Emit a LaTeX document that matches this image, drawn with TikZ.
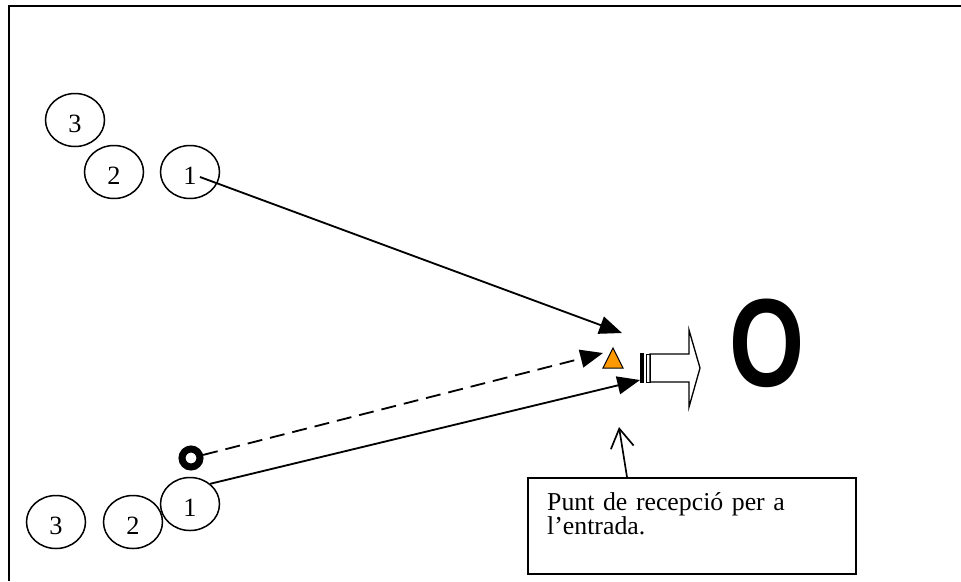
\documentclass[tikz,border=0pt]{standalone}
\usepackage{graphicx}
\usepackage{fontspec}
\setmainfont{Liberation Serif}
\newfontfamily\goalfont{Liberation Sans}
\usetikzlibrary{arrows.meta, shapes.geometric, positioning}
\definecolor{coneorange}{RGB}{255,153,0}
\tikzset{
  frame/.style={line width=0.6mm},
  player/.style={ellipse, draw, line width=0.45mm, minimum width=17.7mm,
    minimum height=15.9mm, inner sep=0pt, text height=7.5mm, text depth=0pt,
    font=\fontsize{22.5}{23}\selectfont},
  ring/.style={circle, draw, line width=2.1mm, minimum size=5.4mm, inner sep=0pt},
  pass/.style={line width=0.55mm, -{Triangle[length=6.8mm, width=5.4mm]}},
  run/.style={pass, dash pattern=on 4.5mm off 2.4mm},
  cone/.style={draw, fill=coneorange, line width=0.3mm},
  blockarrow/.style={draw, line width=0.4mm, line join=miter},
  goal/.style={inner sep=0pt, font=\goalfont\bfseries\fontsize{107}{107}\selectfont},
  note/.style={draw, line width=0.5mm, anchor=north west, minimum width=98.4mm,
    minimum height=28.8mm, inner sep=0pt},
  notetext/.style={anchor=base west, align=left, text width=92mm, inner sep=0pt,
    font=\fontsize{22}{21.3}\selectfont},
  pointer/.style={line width=0.5mm, -{Straight Barb[length=5.7mm, width=6.9mm]}},
}

\begin{document}
\begin{tikzpicture}[x=0.3mm, y=-0.3mm]
  \useasboundingbox (0,0) rectangle (961,581);
  % frame
  \draw[frame] (9,581) -- (9,6) -- (961,6);

  % players
  \node[player] (t3) at (75,120) {3};
  \node[player] (t2) at (114,172) {2};
  \node[player] (t1) at (190,172) {1};
  \node[player] (b3) at (56,522) {3};
  \node[player] (b2) at (133,522) {2};
  \node[player] (b1) at (190,504) {1};
  \node[ring] (ball) at (191,458) {};

  % reception point and goal
  \draw[cone] (603,368) -- (623,368) -- (613,348) -- cycle;
  \fill (640,353) rectangle (644,383);
  \draw[line width=0.3mm] (646,354) rectangle (650,382);
  \draw[blockarrow] (650,354) -- (689,354) -- (689,330) -- (700,368)
    -- (689,407) -- (689,382) -- (650,382) -- cycle;
  \node[goal] (goal) at (767,343) {\scalebox{0.77}[1]{O}};

  \coordinate (tipA) at (622,333);
  \coordinate (tipB) at (603,353);
  \coordinate (tipC) at (640,380);
  \coordinate (recv) at (619,427);

  % passes
  \draw[pass] ([shift={(10,5)}]t1.center) -- (tipA);
  \draw[run] (ball) -- (tipB);
  \draw[pass] (b1.45) -- (tipC);

  % note
  \node[note] (note) at (527,477) {};
  \node[notetext] (notetext) at ([shift={(20,33)}]note.north west)
    {Punt de recepció per a\\l’entrada.};
  \draw[pointer] ([shift={(100,0)}]note.north west) -- (recv);
\end{tikzpicture}
\end{document}
